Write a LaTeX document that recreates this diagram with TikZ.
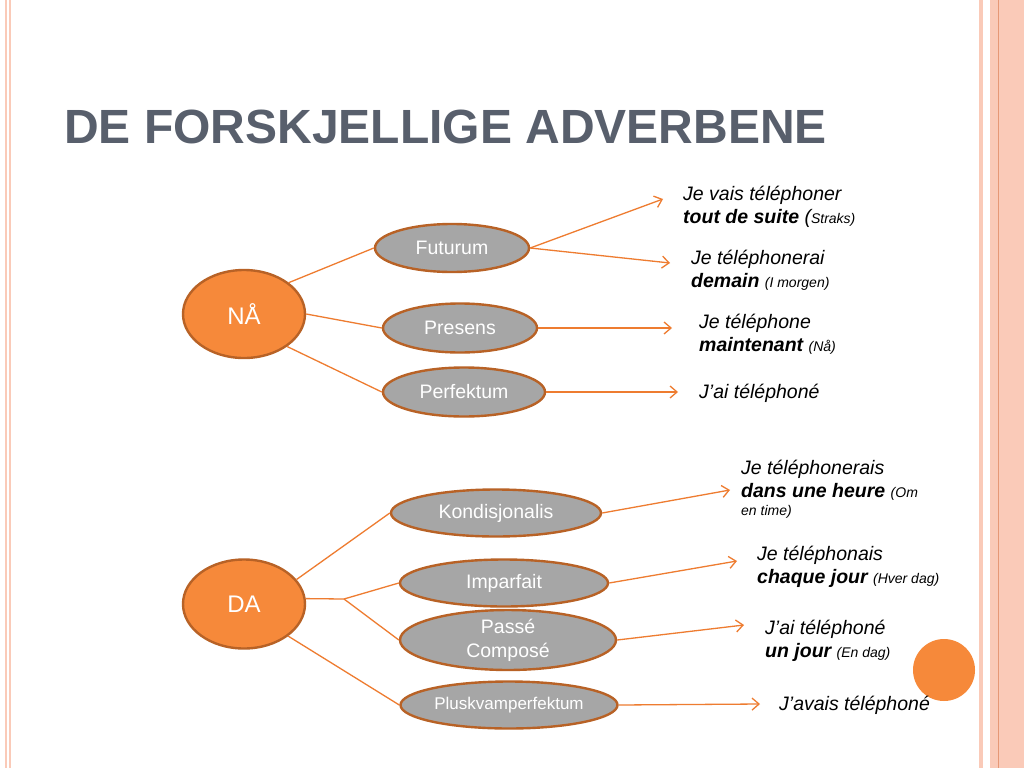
\documentclass[tikz,border=0pt]{standalone}
\usepackage{fontspec}
\setmainfont{Liberation Sans}
\usetikzlibrary{shapes.geometric, arrows.meta}

\definecolor{orng}{RGB}{246,137,58}
\definecolor{orngdark}{RGB}{184,98,38}
\definecolor{greyfill}{RGB}{166,166,166}
\definecolor{linecol}{RGB}{238,124,48}
\definecolor{titlecol}{RGB}{88,95,108}
\definecolor{stripe}{RGB}{250,202,184}
\definecolor{stripedark}{RGB}{230,152,118}

\newcommand{\smalltxt}[1]{{\fontsize{14}{16}\selectfont #1}}

\begin{document}
\begin{tikzpicture}[x=1pt, y=-1pt,
	main/.style={ellipse, draw=orngdark, line width=2.4pt, fill=orng, text=white, inner sep=0pt, font=\fontsize{24}{28}\selectfont},
	tense/.style={ellipse, draw=orngdark, line width=2.4pt, fill=greyfill, text=white, inner sep=0pt, align=center, font=\fontsize{19.5}{24}\selectfont},
	link/.style={draw=linecol, line width=1.3pt},
	arr/.style={link, -{Straight Barb[length=7pt,width=12pt]}},
	ex/.style={anchor=base west, align=left, inner sep=0pt, font=\fontsize{19.5}{23}\selectfont\itshape}]
	\useasboundingbox (0,0) rectangle (1024,768);
	\fill[white] (0,0) rectangle (1024,768);

% side stripes
	\fill[stripe] (5,0) rectangle (6.5,768);
	\fill[stripe] (9,0) rectangle (11,768);
	\fill[stripe] (979,0) rectangle (983,768);
	\fill[stripe] (990,0) rectangle (1024,768);
	\fill[stripedark] (997.5,0) rectangle (998.7,768);
	\fill[orng] (944,670) circle (31);

% title
	\node[anchor=base west, inner sep=0pt, text=titlecol, font=\fontsize{48}{56}\selectfont\bfseries] (title) at (64,143) {DE FORSKJELLIGE ADVERBENE};

% now
	\node[main, minimum width=122pt, minimum height=88pt] (na) at (244,314) {NÅ};
	\node[tense, minimum width=154pt, minimum height=48pt] (fut) at (452,248) {Futurum};
	\node[tense, minimum width=154pt, minimum height=49pt] (pres) at (460,328) {Presens};
	\node[tense, minimum width=162pt, minimum height=49pt] (perf) at (464,392) {Perfektum};

	\draw[link] (na.35) -- (fut.west);
	\draw[link] (na.east) -- (pres.west);
	\draw[link] (na.-37) -- (perf.west);

% then
	\node[main, minimum width=122pt, minimum height=89pt] (da) at (244,604) {DA};
	\node[tense, minimum width=210pt, minimum height=47pt] (kond) at (496,513) {Kondisjonalis};
	\node[tense, minimum width=208pt, minimum height=47pt] (imp) at (504,583) {Imparfait};
	\node[tense, minimum width=216pt, minimum height=47pt] (pc) at (508,640) {Passé\\Composé};
	\node[tense, minimum width=217pt, minimum height=47pt, font=\fontsize{17}{20}\selectfont] (plusk) at (509,705) {Pluskvamperfektum};

	\coordinate (split) at (344,599);
	\draw[link] (da.25) -- (kond.west);
	\draw[link] (da.5) -- (split);
	\draw[link] (split) -- (imp.west);
	\draw[link] (split) -- (pc.west);
	\draw[link] (da.-36) -- (plusk.west);

% examples
	\node[ex] (exA) at (683,223) {Je vais téléphoner\\\textbf{tout de suite} (\smalltxt{Straks)}};
	\node[ex] (exB) at (691,287) {Je téléphonerai\\\textbf{demain} \smalltxt{(I morgen)}};
	\node[ex] (exC) at (699,351) {Je téléphone\\\textbf{maintenant} \smalltxt{(Nå)}};
	\node[ex] (exD) at (699,398) {J’ai téléphoné};
	\node[ex] (exE) at (741,515) {Je téléphonerais\\\textbf{dans une heure} \smalltxt{(Om}\\[-5pt]\smalltxt{en time)}};
	\node[ex] (exF) at (757,583) {Je téléphonais\\\textbf{chaque jour} \smalltxt{(Hver dag)}};
	\node[ex] (exG) at (765,657) {J’ai téléphoné\\\textbf{un jour} \smalltxt{(En dag)}};
	\node[ex] (exH) at (779,710) {J’avais téléphoné};

% arrows
	\coordinate (tipA) at (663,199);
	\coordinate (tipB) at (670,263);
	\coordinate (tipC) at (672,328);
	\coordinate (tipD) at (678,392);
	\coordinate (tipE) at (730,490);
	\coordinate (tipF) at (737,561);
	\coordinate (tipG) at (744,625);
	\coordinate (tipH) at (760,704);
	\draw[arr] (fut.east) -- (tipA);
	\draw[arr] (fut.east) -- (tipB);
	\draw[arr] (pres.east) -- (tipC);
	\draw[arr] (perf.east) -- (tipD);
	\draw[arr] (kond.east) -- (tipE);
	\draw[arr] (imp.east) -- (tipF);
	\draw[arr] (pc.east) -- (tipG);
	\draw[arr] (plusk.east) -- (tipH);
\end{tikzpicture}
\end{document}
